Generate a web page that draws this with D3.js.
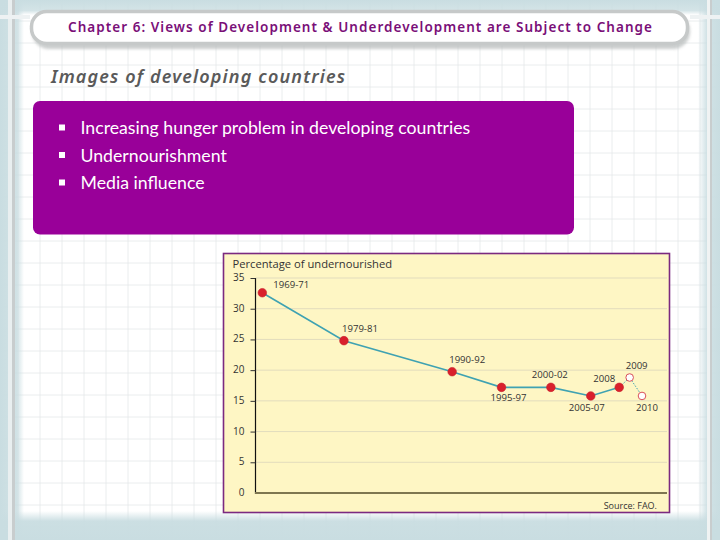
<!DOCTYPE html>
<html><head><meta charset="utf-8">
<script src="https://cdn.jsdelivr.net/npm/d3@7/dist/d3.min.js"></script>
<style>html,body{margin:0;padding:0;background:#fff}svg{display:block}</style>
</head><body><svg id="c" width="720" height="540"></svg>
<script>
const periods = ["1969-71","1979-81","1990-92","1995-97","2000-02","2005-07","2008","2009","2010"];
const axisPositions = [1970,1978.6,1990,1995.2,2000.4,2004.6,2007.6,2008.7,2010];
const undernourished = [32.6,24.8,19.75,17.2,17.2,15.8,17.2,18.8,15.8];
const projected = [false,false,false,false,false,false,false,true,true];
const yTicks = [0,5,10,15,20,25,30,35];
const bullets = ["Increasing hunger problem in developing countries","Undernourishment","Media influence"];

const svg = d3.select("#c");
const defs = svg.append("defs");
function grad(id,x1,y1,x2,y2,stops){
  const g=defs.append("linearGradient").attr("id",id).attr("x1",x1).attr("y1",y1).attr("x2",x2).attr("y2",y2);
  stops.forEach(s=>g.append("stop").attr("offset",s[0]).attr("stop-color","#c9dde1").attr("stop-opacity",s[1]));
}
grad("gl",0,0,1,0,[[0,1],[.7,.85],[1,0]]);
grad("gr",1,0,0,0,[[0,1],[.6,.85],[1,0]]);
grad("gt",0,0,0,1,[[0,1],[.7,.8],[1,0]]);
grad("gb",0,1,0,0,[[0,1],[.65,.95],[1,0]]);
const f=defs.append("filter").attr("id","sh").attr("x","-5%").attr("y","-30%").attr("width","110%").attr("height","170%");
f.append("feGaussianBlur").attr("stdDeviation",1.5);

// page background
svg.append("rect").attr("width",720).attr("height",540).attr("fill","#fff");
const gridG=svg.append("g").attr("stroke","#e4e9ea").attr("stroke-width",0.8);
d3.range(18,720,22).forEach(x=>gridG.append("line").attr("x1",x).attr("x2",x).attr("y1",0).attr("y2",540));
d3.range(21,540,22).forEach(y=>gridG.append("line").attr("y1",y).attr("y2",y).attr("x1",0).attr("x2",720));
svg.append("rect").attr("x",0).attr("y",0).attr("width",24).attr("height",540).attr("fill","url(#gl)");
svg.append("rect").attr("x",698).attr("y",0).attr("width",22).attr("height",540).attr("fill","url(#gr)");
svg.append("rect").attr("x",0).attr("y",0).attr("width",720).attr("height",15).attr("fill","url(#gt)");
svg.append("rect").attr("x",0).attr("y",511).attr("width",720).attr("height",29).attr("fill","url(#gb)");
// rails
svg.append("rect").attr("x",8).attr("y",0).attr("width",4).attr("height",540).attr("fill","#e9eff0");
svg.append("rect").attr("x",12).attr("y",0).attr("width",3).attr("height",540).attr("fill","#c8cdce");
svg.append("rect").attr("x",707).attr("y",0).attr("width",3).attr("height",540).attr("fill","#f0f3f3");
svg.append("rect").attr("x",710).attr("y",0).attr("width",2).attr("height",540).attr("fill","#c8cdce");
svg.append("rect").attr("x",0).attr("y",15).attr("width",30).attr("height",4).attr("fill","#eef2f3");
svg.append("rect").attr("x",690).attr("y",15).attr("width",30).attr("height",4).attr("fill","#eef2f3");

// header pill
svg.append("rect").attr("x",32).attr("y",14).attr("width",658).attr("height",35).attr("rx",17).attr("fill","#b9bdbd").attr("opacity",.75).attr("filter","url(#sh)");
svg.append("rect").attr("x",31.5).attr("y",11.5).attr("width",656).attr("height",32).attr("rx",15).attr("fill","#fff").attr("stroke","#c6c9c9").attr("stroke-width",3.5);
svg.append("text").attr("x",360).attr("y",31.5).attr("text-anchor","middle")
  .attr("font-family","'Noto Sans'").attr("font-size",13.5).attr("font-weight",600).attr("fill","#7a0f78")
  .attr("textLength",584).attr("lengthAdjust","spacing")
  .text("Chapter 6: Views of Development & Underdevelopment are Subject to Change");

svg.append("text").attr("x",51).attr("y",83)
  .attr("font-family","'Noto Sans'").attr("font-size",18).attr("font-style","italic").attr("font-weight",600).attr("fill","#5a5a5a")
  .attr("textLength",294).attr("lengthAdjust","spacing").text("Images of developing countries");

// purple panel
svg.append("rect").attr("x",33).attr("y",101).attr("width",541).attr("height",133.5).attr("rx",7).attr("fill","#990099");
const by=d3.scalePoint().domain(bullets).range([128,183]);
bullets.forEach(b=>{
  svg.append("rect").attr("x",59).attr("y",by(b)-3.5).attr("width",6).attr("height",6).attr("fill","#fff");
  svg.append("text").attr("x",80.5).attr("y",by(b)+6).attr("font-family","Lato").attr("font-size",17.7).attr("fill","#fff").text(b);
});

// chart panel
svg.append("rect").attr("x",223.5).attr("y",253.5).attr("width",446).attr("height",259).attr("fill","#fef6c4").attr("stroke","#7b2a80").attr("stroke-width",1.6);
const y=d3.scaleLinear().domain([0,35]).range([493,278]);
const x=d3.scaleLinear().domain([1970,2010]).range([262.3,642]);
const font="'Open Sans'";
const plot=svg.append("g");
plot.append("g").selectAll("line").data(yTicks.filter(d=>d>0)).join("line")
  .attr("x1",255.5).attr("x2",667).attr("y1",d=>y(d)).attr("y2",d=>y(d)).attr("stroke","#e2dcbd").attr("stroke-width",1);
const ax=plot.append("g").attr("transform","translate(255.5,0)").call(d3.axisLeft(y).tickValues(yTicks).tickSize(5).tickPadding(6));
ax.select(".domain").attr("stroke","#111").attr("stroke-width",1.2).attr("d","M0,278V494");
ax.selectAll(".tick line").attr("stroke","#333");
ax.selectAll(".tick text").attr("font-family",font).attr("font-size",10).attr("fill","#333").attr("dy","0.25em");
ax.selectAll(".tick").filter(d=>d===0).select("line").remove();
plot.append("line").attr("x1",255).attr("x2",667).attr("y1",y(0)).attr("y2",y(0)).attr("stroke","#7e7650").attr("stroke-width",2);

const pts=periods.map((p,i)=>({p,x:axisPositions[i],v:undernourished[i],proj:projected[i]}));
const line=d3.line().x(d=>x(d.x)).y(d=>y(d.v));
plot.append("path").attr("d",line(pts.filter(d=>!d.proj))).attr("fill","none").attr("stroke","#3fa2b2").attr("stroke-width",1.6);
plot.append("path").attr("d",line(pts.slice(6))).attr("fill","none").attr("stroke","#3fa2b2").attr("stroke-width",1).attr("stroke-dasharray","1.5 1.5");
plot.selectAll("circle").data(pts).join("circle")
  .attr("cx",d=>x(d.x)).attr("cy",d=>y(d.v)).attr("r",d=>d.proj?3.8:4.3)
  .attr("fill",d=>d.proj?"#fff":"#d9202c").attr("stroke",d=>d.proj?"#d9505a":"#c8202c").attr("stroke-width",d=>d.proj?1:.6);

// label placement: dx, dy from the point, one per period
const labelOffset=[[11,-5],[-2,-9],[-3,-9],[-11,14],[-19,-9],[-22,15],[-26,-5],[-4,-9],[-6,15]];
plot.selectAll(".lab").data(pts).join("text").attr("class","lab")
  .attr("x",(d,i)=>x(d.x)+labelOffset[i][0]).attr("y",(d,i)=>y(d.v)+labelOffset[i][1])
  .attr("font-family",font).attr("font-size",9.6).attr("fill","#333").text(d=>d.p);

svg.append("text").attr("x",232.5).attr("y",268).attr("font-family",font).attr("font-size",11.2).attr("fill","#333").text("Percentage of undernourished");
svg.append("text").attr("x",657).attr("y",508.5).attr("text-anchor","end").attr("font-family",font).attr("font-size",9).attr("fill","#333").text("Source: FAO.");
</script></body></html>
